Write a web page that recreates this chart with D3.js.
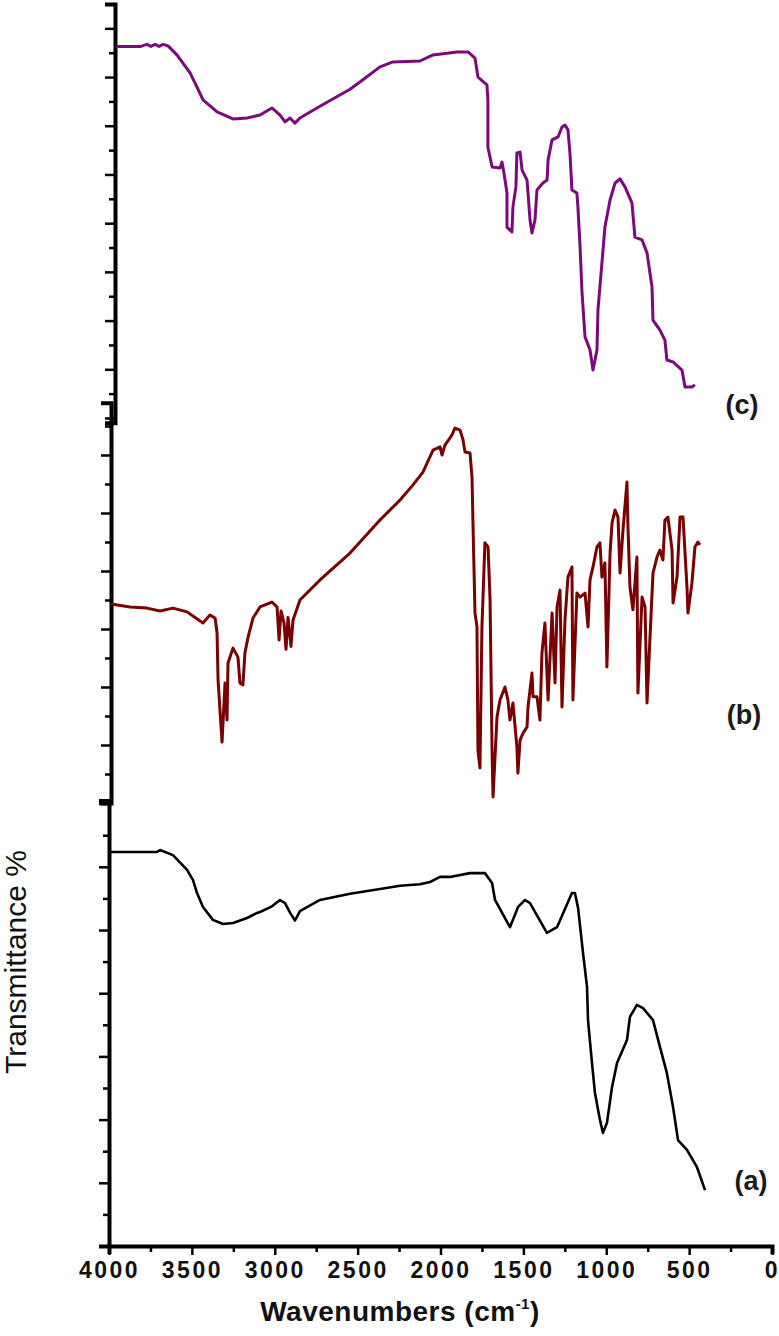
<!DOCTYPE html>
<html>
<head>
<meta charset="utf-8">
<script src="https://cdn.jsdelivr.net/npm/d3@7/dist/d3.min.js"></script>
<style>
  body { margin: 0; background: #fff; }
  svg { display: block; }
  text { font-family: "Liberation Sans", Arial, sans-serif; }
</style>
</head>
<body>
<div id="chart"></div>
<script>
// FTIR spectra (wavenumber in cm-1, transmittance in y-tick units)
const waveC = [3958, 3813, 3771, 3747, 3722, 3698, 3674, 3644, 3590, 3511, 3469, 3433, 3348, 3252, 3167, 3089, 3017, 2968, 2938, 2908, 2878, 2848, 2727, 2546, 2486, 2365, 2287, 2124, 2045, 1900, 1834, 1792, 1774, 1720, 1714, 1714, 1689, 1641, 1629, 1617, 1599, 1599, 1569, 1563, 1545, 1539, 1520, 1508, 1478, 1472, 1460, 1448, 1430, 1418, 1382, 1357, 1351, 1327, 1291, 1267, 1249, 1231, 1219, 1207, 1177, 1171, 1158, 1146, 1128, 1098, 1080, 1056, 1050, 1026, 1008, 977, 947, 917, 887, 845, 827, 784, 754, 724, 718, 676, 646, 634, 597, 543, 525, 483, 465];
const transC = [15.25, 15.25, 15.34, 15.26, 15.34, 15.26, 15.34, 15.28, 14.91, 14.17, 13.59, 13.06, 12.57, 12.28, 12.32, 12.44, 12.73, 12.44, 12.16, 12.32, 12.11, 12.32, 12.8, 13.5, 13.8, 14.42, 14.62, 14.66, 14.91, 15.03, 15.03, 14.78, 14.0, 13.68, 13.06, 11.13, 10.31, 10.27, 10.51, 10.06, 9.24, 7.84, 7.64, 8.67, 9.49, 10.88, 10.92, 10.18, 9.77, 9.24, 8.13, 7.6, 8.13, 9.36, 9.65, 9.77, 10.6, 11.42, 11.54, 11.95, 12.03, 11.83, 10.88, 9.36, 9.24, 8.67, 7.02, 5.13, 3.33, 2.79, 1.97, 2.79, 4.44, 6.37, 7.84, 8.95, 9.65, 9.82, 9.49, 8.83, 7.43, 7.31, 6.78, 5.38, 4.02, 3.61, 3.2, 2.38, 2.3, 1.97, 1.27, 1.27, 1.36];

const waveB = [3988, 3873, 3771, 3692, 3614, 3529, 3433, 3391, 3360, 3348, 3342, 3318, 3300, 3288, 3282, 3252, 3222, 3210, 3192, 3180, 3161, 3131, 3089, 3017, 2986, 2974, 2962, 2944, 2932, 2920, 2902, 2890, 2866, 2848, 2727, 2546, 2365, 2244, 2166, 2106, 2045, 2003, 1991, 1973, 1931, 1913, 1882, 1864, 1852, 1822, 1810, 1804, 1792, 1780, 1774, 1762, 1750, 1732, 1713, 1701, 1689, 1683, 1659, 1641, 1611, 1593, 1581, 1563, 1539, 1533, 1520, 1502, 1478, 1472, 1448, 1442, 1418, 1400, 1388, 1370, 1351, 1327, 1309, 1297, 1279, 1267, 1249, 1231, 1207, 1201, 1177, 1158, 1128, 1110, 1098, 1080, 1056, 1038, 1026, 1008, 996, 977, 965, 947, 929, 917, 899, 875, 869, 857, 839, 815, 809, 784, 766, 754, 736, 718, 694, 676, 658, 646, 628, 603, 597, 573, 555, 537, 513, 507, 483, 465, 447, 435];
const transB = [6.86, 6.76, 6.72, 6.62, 6.72, 6.59, 6.21, 6.48, 6.38, 5.86, 4.24, 2.1, 4.14, 2.86, 4.83, 5.34, 5.03, 4.14, 4.07, 5.17, 5.72, 6.38, 6.76, 6.93, 6.76, 5.62, 6.62, 6.2, 5.3, 6.4, 5.4, 6.3, 6.7, 7.0, 7.69, 8.62, 9.76, 10.45, 10.97, 11.41, 12.17, 12.28, 12.0, 12.34, 12.69, 12.93, 12.86, 12.52, 12.1, 12.07, 11.24, 9.66, 6.55, 6.07, 1.83, 1.21, 6.07, 8.97, 8.83, 7.0, 1.83, 0.21, 2.97, 3.55, 4.0, 3.55, 2.86, 3.45, 1.93, 1.03, 2.17, 2.41, 2.62, 3.31, 4.48, 3.66, 3.66, 2.86, 5.17, 6.21, 3.55, 6.55, 4.14, 6.76, 7.34, 3.31, 6.31, 7.79, 8.14, 3.55, 7.24, 7.1, 7.24, 6.07, 7.69, 8.14, 8.83, 8.97, 7.79, 8.28, 4.69, 8.62, 9.66, 10.1, 9.86, 7.93, 9.41, 11.07, 9.52, 7.45, 6.66, 8.48, 3.79, 7.1, 6.76, 3.45, 5.72, 7.93, 8.48, 8.72, 8.38, 9.76, 9.86, 8.72, 6.9, 7.79, 9.86, 9.86, 7.45, 6.55, 7.59, 8.83, 9.0, 8.9];

const waveA = [4000, 3710, 3692, 3614, 3529, 3493, 3469, 3433, 3373, 3312, 3252, 3167, 3107, 3089, 3017, 2968, 2938, 2908, 2878, 2848, 2727, 2546, 2365, 2244, 2124, 2063, 2003, 1943, 1822, 1732, 1689, 1671, 1581, 1532, 1490, 1460, 1358, 1297, 1207, 1189, 1170, 1140, 1116, 1110, 1086, 1068, 1038, 1020, 996, 965, 935, 875, 857, 815, 778, 718, 676, 634, 597, 567, 513, 453, 404];
const transA = [12.47, 12.47, 12.53, 12.37, 11.9, 11.58, 11.17, 10.73, 10.32, 10.19, 10.22, 10.38, 10.54, 10.57, 10.75, 10.95, 10.85, 10.55, 10.3, 10.6, 10.95, 11.15, 11.3, 11.4, 11.45, 11.52, 11.68, 11.68, 11.8, 11.8, 11.49, 10.95, 10.09, 10.73, 10.95, 10.85, 9.91, 10.09, 11.17, 11.17, 10.7, 9.27, 8.2, 7.15, 5.79, 4.84, 3.99, 3.58, 3.89, 5.03, 5.79, 6.52, 7.25, 7.63, 7.53, 7.15, 6.3, 5.47, 4.4, 3.35, 3.04, 2.5, 1.77];

const xTicks = d3.range(0, 4001, 250);
const xLabels = [4000, 3500, 3000, 2500, 2000, 1500, 1000, 500, 0];
const panelNames = ["(c)", "(b)", "(a)"];

const width = 779, height = 1336;
const svg = d3.select("#chart").append("svg")
  .attr("width", width)
  .attr("height", height);

const x = d3.scaleLinear().domain([4000, 0]).range([109, 772]);

// each panel has its own left axis (the figure is stacked from three plots)
const panels = [
  { name: panelNames[0], wave: waveC, trans: transC, color: "#7d077d", axisX: 115,
    y: d3.scaleLinear().domain([-0.2, 17]).range([418 + 0.2 * 24.35, 4]), nTicks: 17, label: [742, 405] },
  { name: panelNames[1], wave: waveB, trans: transB, color: "#7a0000", axisX: 111,
    y: d3.scaleLinear().domain([0, 13.8]).range([803, 803 - 13.8 * 29]), nTicks: 13, label: [744, 715] },
  { name: panelNames[2], wave: waveA, trans: transA, color: "#000000", axisX: 109,
    y: d3.scaleLinear().domain([0, 14.1]).range([1246, 1246 - 14.1 * 31.6]), nTicks: 14, label: [751, 1181] }
];

panels.forEach((p) => {
  const axis = d3.axisLeft(p.y)
    .tickValues(d3.range(0, p.nTicks + 1))
    .tickSizeOuter(0)
    .tickSize(10)
    .tickFormat("");

  const g = svg.append("g")
    .attr("transform", `translate(${p.axisX},0)`)
    .call(axis);

  g.select(".domain").attr("stroke", "#000").attr("stroke-width", 4);
  g.selectAll(".tick line")
    .attr("stroke", "#000")
    .attr("stroke-width", 2.5)
    .attr("x2", (d) => (d % 2 === 0 ? -10 : -6));

  const data = p.wave.map((w, i) => [w, p.trans[i]]);
  const line = d3.line()
    .x((d) => x(d[0]))
    .y((d) => p.y(d[1]));

  svg.append("path")
    .datum(data)
    .attr("fill", "none")
    .attr("stroke", p.color)
    .attr("stroke-width", p.name === "(a)" ? 2.6 : 3)
    .attr("stroke-linejoin", "round")
    .attr("d", line);

  svg.append("text")
    .attr("x", p.label[0])
    .attr("y", p.label[1])
    .attr("dy", "0.35em")
    .attr("text-anchor", "middle")
    .attr("font-size", 27)
    .attr("font-weight", "bold")
    .attr("fill", "#1a1a1a")
    .text(p.name);
});

// bottom axis
const xAxis = d3.axisBottom(x)
  .tickValues(xTicks)
  .tickSizeOuter(0)
  .tickSize(8)
  .tickFormat((d) => (xLabels.includes(d) ? d : ""));

const gx = svg.append("g")
  .attr("transform", "translate(0,1246)")
  .call(xAxis);

gx.select(".domain").attr("stroke", "#000").attr("stroke-width", 4);
gx.selectAll(".tick line")
  .attr("stroke", "#000")
  .attr("stroke-width", 2.5)
  .attr("y2", (d) => (d % 500 === 0 ? 9 : 6));
gx.selectAll(".tick text")
  .attr("y", 16)
  .attr("dy", "0.71em")
  .attr("fill", "#111")
  .attr("font-size", 23)
  .attr("font-weight", "bold")
  .attr("letter-spacing", 2.5)
  .attr("font-family", "'Liberation Sans', Arial, sans-serif");

// axis titles
const xTitle = svg.append("text")
  .attr("x", 400)
  .attr("y", 1321)
  .attr("text-anchor", "middle")
  .attr("font-size", 28)
  .attr("font-weight", "bold")
  .attr("letter-spacing", 0.5)
  .attr("fill", "#111");
xTitle.append("tspan").text("Wavenumbers (cm");
xTitle.append("tspan").attr("font-size", 15).attr("dy", -12).text("-1");
xTitle.append("tspan").attr("dy", 12).text(")");

svg.append("text")
  .attr("transform", "translate(26,962) rotate(-90)")
  .attr("text-anchor", "middle")
  .attr("font-size", 30)
  .attr("fill", "#111")
  .text("Transmittance %");
</script>
</body>
</html>
